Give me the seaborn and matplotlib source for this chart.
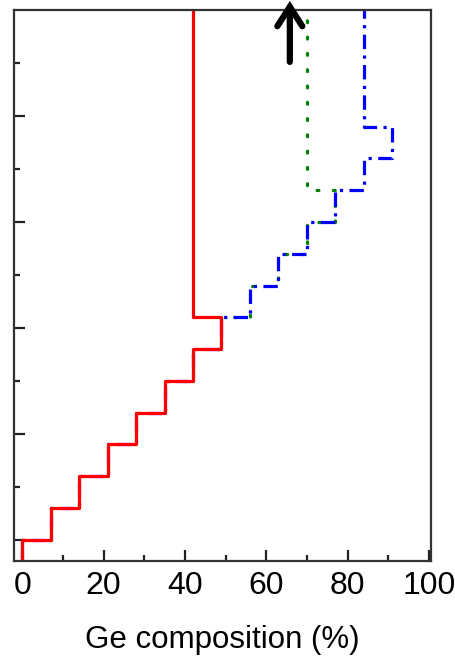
import matplotlib
matplotlib.use("Agg")
import matplotlib.pyplot as plt
import seaborn as sns
import pandas as pd

# ---- data ----
red_thickness = [-0.2, 0.0, 0.3, 0.6, 0.9, 1.2, 1.5, 1.8, 2.1, 5.0]
red_ge = [0, 7, 14, 21, 28, 35, 42, 49, 42, 42]

blue_thickness = [-0.2, 0.0, 0.3, 0.6, 0.9, 1.2, 1.5, 1.8, 2.1, 2.4, 2.7, 3.0, 3.3, 3.6, 3.9, 5.0]
blue_ge = [0, 7, 14, 21, 28, 35, 42, 49, 56, 63, 70, 77, 84, 91, 84, 84]

green_thickness = [-0.2, 0.0, 0.3, 0.6, 0.9, 1.2, 1.5, 1.8, 2.1, 2.4, 2.7, 3.0, 3.3, 5.0]
green_ge = [0, 7, 14, 21, 28, 35, 42, 49, 56, 63, 70, 77, 70, 70]

x_ticks = [0, 20, 40, 60, 80, 100]
x_label = "Ge composition (%)"
arrow_x = 65.8
arrow_y = (4.51, 5.085)

sns.set_style("ticks")
plt.rcParams["font.family"] = ["Liberation Sans", "DejaVu Sans"]
plt.rcParams["text.color"] = "black"
plt.rcParams["xtick.labelcolor"] = "black"
plt.rcParams["axes.labelcolor"] = "black"

fig = plt.figure(figsize=(4.55, 6.57), dpi=100)
ax = fig.add_axes([14 / 455, 1 - 561 / 657, (431 - 14) / 455, (561 - 10) / 657])

df_g = pd.DataFrame({"ge": green_ge, "t": green_thickness})
df_b = pd.DataFrame({"ge": blue_ge, "t": blue_thickness})
df_r = pd.DataFrame({"ge": red_ge, "t": red_thickness})

sns.lineplot(data=df_g, x="ge", y="t", sort=False, estimator=None, ax=ax,
             color="#008000", lw=2.3, drawstyle="steps-pre", dashes=False,
             linestyle=(0, (0.6, 4.5)), dash_capstyle="round")
sns.lineplot(data=df_b, x="ge", y="t", sort=False, estimator=None, ax=ax,
             color="#0000ff", lw=2.3, drawstyle="steps-pre",
             linestyle=(0, (4.5, 2.0, 1.0, 2.0)))
sns.lineplot(data=df_r, x="ge", y="t", sort=False, estimator=None, ax=ax,
             color="#ff0000", lw=2.3, drawstyle="steps-pre")

ax.annotate("", xy=(arrow_x, arrow_y[1]), xytext=(arrow_x, arrow_y[0]),
            annotation_clip=False,
            arrowprops=dict(arrowstyle="->,head_length=0.7,head_width=0.45",
                            mutation_scale=20, lw=4.5, color="black",
                            shrinkA=0, shrinkB=0, joinstyle="miter"))

ax.set_xlim(-2, 100.5)
ax.set_ylim(-0.2, 5.0)
ax.set_xticks(x_ticks)
ax.set_xticks([10, 30, 50, 70, 90], minor=True)
ax.set_yticks([0, 1, 2, 3, 4])
ax.set_yticks([0.5, 1.5, 2.5, 3.5, 4.5], minor=True)
ax.set_yticklabels([])
ax.set_xticklabels([str(v) for v in x_ticks])
ax.tick_params(axis="both", which="major", direction="in", length=8, width=1.6,
               color="#222222", labelsize=23, pad=7.5, labelcolor="black")
ax.tick_params(axis="both", which="minor", direction="in", length=4.5, width=1.6,
               color="#222222")
ax.tick_params(top=False, right=False)
ax.set_xlabel(x_label, fontsize=22.5, labelpad=17, color="black")
ax.set_ylabel("")
for s in ax.spines.values():
    s.set_visible(True)
    s.set_linewidth(1.6)
    s.set_color("#333333")

fig.savefig("out.png", dpi=100, facecolor="white")
